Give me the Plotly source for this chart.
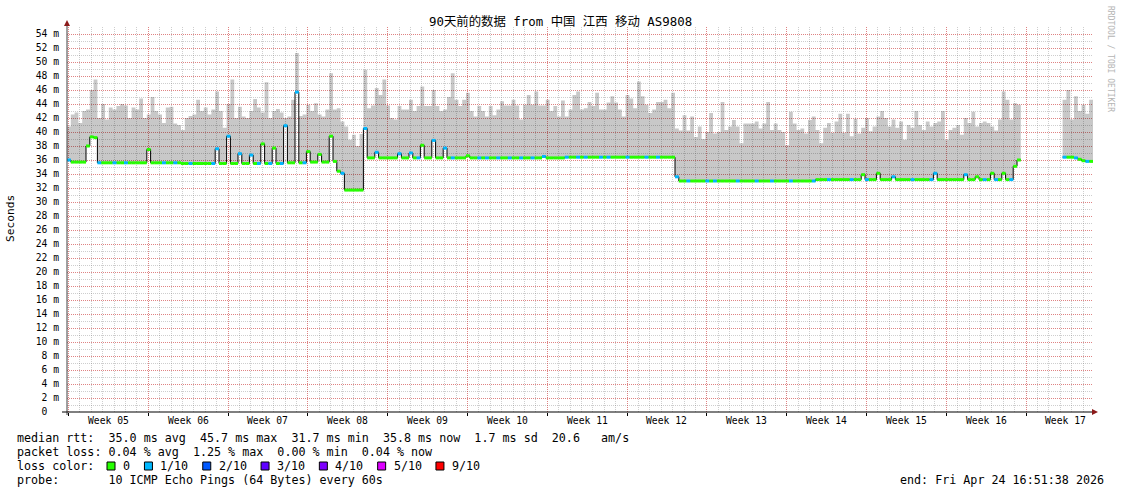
import plotly.graph_objects as go
from datetime import datetime, timedelta

# ---------------- data (8-hour steps from graph start) ----------------
START = datetime(2026, 1, 24, 16, 51, 38)
END = datetime(2026, 4, 24, 16, 51, 38)
STEP_HOURS = 8

# highest ping per step (ms) -> top of the "smoke"
smoke_top = [
    40.8, 42.5, 42.8, 41.3, 43.0, 43.2, 46.0, 47.5, 42.0, 44.0,
    41.8, 43.5, 43.2, 43.7, 44.0, 43.8, 42.0, 43.5, 43.2, 44.8,
    42.0, 42.5, 45.0, 43.0, 42.5, 41.3, 43.5, 43.6, 41.2, 41.0,
    40.3, 42.0, 42.3, 42.5, 44.6, 43.0, 43.5, 42.5, 43.2, 45.8,
    43.0, 40.6, 44.0, 47.5, 42.0, 43.6, 42.2, 42.0, 43.0, 44.7,
    43.5, 42.8, 47.1, 42.0, 43.0, 43.3, 42.8, 42.0, 42.2, 44.6,
    51.3, 42.3, 42.5, 43.9, 43.0, 44.1, 42.5, 42.2, 43.2, 48.4,
    43.2, 43.4, 41.5, 40.8, 38.9, 39.6, 38.0, 39.7, 48.9, 43.4,
    43.8, 46.3, 45.3, 47.5, 43.8, 42.0, 41.8, 43.7, 43.2, 43.2,
    44.6, 43.0, 43.7, 46.5, 43.7, 43.7, 46.0, 43.7, 43.0, 43.2,
    45.0, 48.4, 44.6, 43.7, 44.6, 45.6, 43.0, 42.2, 43.7, 43.0,
    42.2, 43.7, 42.4, 43.2, 44.4, 43.8, 43.8, 44.6, 43.8, 41.8,
    43.9, 45.3, 43.9, 45.8, 43.8, 43.8, 44.6, 43.0, 43.7, 42.2,
    44.5, 42.2, 43.2, 45.3, 45.8, 43.2, 43.4, 44.3, 43.7, 45.6,
    43.2, 43.2, 44.2, 45.1, 44.2, 43.2, 42.2, 45.3, 44.8, 43.4,
    47.2, 45.1, 43.9, 42.7, 43.2, 44.3, 44.3, 44.6, 43.4, 45.6,
    40.5, 40.2, 42.4, 40.2, 42.2, 39.3, 40.8, 39.0, 40.0, 42.7,
    39.8, 40.0, 44.3, 40.3, 40.8, 41.7, 40.8, 38.4, 41.2, 41.2,
    41.2, 41.5, 40.5, 41.2, 44.3, 40.3, 41.2, 40.3, 40.0, 38.1,
    42.9, 41.2, 40.3, 40.5, 39.8, 41.7, 42.2, 40.3, 38.4, 40.6,
    41.3, 39.9, 41.5, 42.6, 39.9, 42.6, 39.4, 41.9, 39.8, 40.6,
    42.0, 40.1, 40.8, 42.2, 43.0, 42.0, 40.8, 41.8, 40.6, 41.5,
    38.9, 41.0, 40.6, 43.0, 41.0, 40.3, 41.5, 40.8, 41.3, 41.5,
    43.0, 38.9, 40.3, 40.6, 41.0, 39.6, 42.0, 41.3, 42.9, 40.8,
    41.3, 41.5, 41.3, 40.8, 40.2, 41.8, 45.8, 44.6, 41.8, 44.1,
    43.9, None, None, None, None, None, None, None, None, None,
    None, None, 44.6, 46.0, 41.8, 45.1, 43.0, 43.9, 42.6, 44.6,
]

# median rtt per step (ms)
median_rtt = [
    36.0, 35.7, 35.7, 35.7, 35.7, 38.0, 39.3, 39.2, 35.6, 35.6,
    35.6, 35.6, 35.6, 35.6, 35.6, 35.6, 35.6, 35.6, 35.6, 35.6,
    35.6, 37.5, 35.6, 35.6, 35.6, 35.6, 35.6, 35.6, 35.6, 35.6,
    35.5, 35.5, 35.5, 35.5, 35.5, 35.5, 35.5, 35.5, 35.5, 37.6,
    35.5, 35.5, 39.4, 35.5, 35.5, 36.9, 35.5, 35.5, 36.7, 35.5,
    35.5, 38.3, 35.5, 35.5, 37.7, 35.5, 35.5, 40.9, 35.6, 35.6,
    45.7, 35.6, 35.6, 37.2, 35.7, 35.7, 36.8, 35.7, 35.7, 39.4,
    35.8, 34.4, 34.1, 31.7, 31.7, 31.7, 31.7, 31.7, 40.5, 36.3,
    36.3, 37.1, 36.3, 36.3, 36.3, 36.3, 36.3, 36.9, 36.3, 36.3,
    37.0, 36.3, 36.3, 38.1, 36.3, 36.3, 38.8, 36.3, 36.3, 37.7,
    36.3, 36.3, 36.3, 36.3, 36.3, 36.6, 36.3, 36.3, 36.3, 36.3,
    36.3, 36.3, 36.3, 36.3, 36.3, 36.3, 36.3, 36.3, 36.3, 36.3,
    36.3, 36.3, 36.3, 36.3, 36.3, 36.5, 36.3, 36.3, 36.3, 36.3,
    36.3, 36.4, 36.4, 36.4, 36.4, 36.4, 36.4, 36.4, 36.4, 36.4,
    36.4, 36.4, 36.4, 36.4, 36.4, 36.4, 36.4, 36.4, 36.4, 36.4,
    36.4, 36.4, 36.4, 36.4, 36.4, 36.4, 36.4, 36.4, 36.4, 36.4,
    33.6, 33.0, 33.0, 33.0, 33.0, 33.0, 33.0, 33.0, 33.0, 33.0,
    33.0, 33.0, 33.0, 33.0, 33.0, 33.0, 33.0, 33.0, 33.0, 33.0,
    33.0, 33.0, 33.0, 33.0, 33.0, 33.0, 33.0, 33.0, 33.0, 33.0,
    33.0, 33.0, 33.0, 33.0, 33.0, 33.0, 33.0, 33.2, 33.2, 33.2,
    33.2, 33.2, 33.2, 33.2, 33.2, 33.2, 33.2, 33.2, 33.2, 33.9,
    33.2, 33.2, 33.2, 34.1, 33.2, 33.2, 33.2, 33.6, 33.2, 33.2,
    33.2, 33.2, 33.2, 33.2, 33.2, 33.2, 33.2, 33.2, 34.1, 33.2,
    33.2, 33.2, 33.2, 33.2, 33.2, 33.2, 33.9, 33.2, 33.2, 33.6,
    33.2, 33.2, 33.2, 34.1, 33.2, 33.2, 34.1, 33.2, 33.2, 35.1,
    36.0, None, None, None, None, None, None, None, None, None,
    None, None, 36.4, 36.4, 36.4, 36.3, 36.1, 35.9, 35.8, 35.8,
]

# pings lost (out of 10) per step
lost_pings = [
    1, 0, 0, 0, 0, 0, 0, 0, 1, 0,
    0, 0, 1, 0, 0, 1, 0, 0, 0, 0,
    0, 0, 0, 0, 0, 1, 0, 0, 1, 0,
    0, 0, 1, 0, 0, 0, 0, 0, 1, 1,
    0, 0, 1, 0, 0, 1, 0, 0, 1, 0,
    1, 0, 0, 1, 0, 0, 1, 1, 0, 0,
    1, 0, 1, 0, 0, 0, 0, 0, 0, 0,
    0, 0, 1, 0, 0, 0, 0, 0, 1, 0,
    0, 1, 0, 0, 0, 0, 0, 1, 0, 0,
    1, 0, 1, 0, 0, 0, 1, 0, 0, 1,
    0, 1, 0, 0, 0, 0, 0, 0, 1, 0,
    1, 0, 0, 1, 0, 0, 1, 0, 0, 1,
    0, 0, 1, 0, 0, 1, 0, 0, 0, 0,
    0, 1, 0, 0, 1, 0, 1, 0, 0, 0,
    1, 0, 1, 0, 0, 0, 0, 1, 0, 0,
    0, 0, 1, 0, 0, 1, 0, 0, 0, 0,
    1, 0, 0, 1, 0, 0, 0, 0, 1, 0,
    1, 0, 0, 0, 0, 0, 1, 0, 0, 0,
    0, 1, 0, 0, 0, 1, 0, 0, 0, 0,
    1, 0, 0, 0, 0, 0, 1, 0, 0, 0,
    1, 0, 0, 0, 0, 0, 1, 0, 0, 0,
    1, 0, 0, 0, 0, 0, 0, 1, 0, 0,
    0, 0, 1, 0, 0, 0, 0, 1, 1, 0,
    0, 0, 0, 0, 0, 0, 1, 0, 0, 0,
    0, 1, 0, 0, 1, 0, 0, 0, 1, 0,
    0, None, None, None, None, None, None, None, None, None,
    None, None, 1, 0, 0, 1, 0, 0, 1, 0,
]

loss_thresholds = [0, 1, 2, 3, 4, 5, 9]
loss_labels = ["0", "1/10", "2/10", "3/10", "4/10", "5/10", "9/10"]
loss_colors = ["#26ff00", "#00b8ff", "#0059ff", "#5e00ff", "#7e00ff", "#dd00ff", "#ff0000"]

week_boundaries = [
    "2026-01-24 20:00", "2026-01-31 20:00", "2026-02-07 20:00", "2026-02-14 20:00",
    "2026-02-21 20:00", "2026-02-28 20:00", "2026-03-07 20:00", "2026-03-14 20:00",
    "2026-03-21 20:00", "2026-03-28 20:00", "2026-04-04 20:00", "2026-04-11 20:00",
    "2026-04-18 20:00",
]
week_labels = ["Week 05", "Week 06", "Week 07", "Week 08", "Week 09", "Week 10", "Week 11",
               "Week 12", "Week 13", "Week 14", "Week 15", "Week 16", "Week 17"]

y_tick_values = [0, 2, 4, 6, 8, 10, 12, 14, 16, 18, 20, 22, 24, 26,
                 28, 30, 32, 34, 36, 38, 40, 42, 44, 46, 48, 50, 52, 54]
y_tick_labels = ["0\u00a0\u00a0", "2 m", "4 m", "6 m", "8 m", "10 m", "12 m", "14 m", "16 m",
                 "18 m", "20 m", "22 m", "24 m", "26 m", "28 m", "30 m", "32 m", "34 m",
                 "36 m", "38 m", "40 m", "42 m", "44 m", "46 m", "48 m", "50 m", "52 m", "54 m"]

title_text = "90天前的数据\u2005from 中国\u2005江西\u2005移动\u2005AS9808"
legend_lines = [
    "median rtt:  35.0 ms avg  45.7 ms max  31.7 ms min  35.8 ms now  1.7 ms sd  20.6   am/s",
    "packet loss: 0.04 % avg  1.25 % max  0.00 % min  0.04 % now",
    "loss color:",
    "probe:       10 ICMP Echo Pings (64 Bytes) every 60s",
]
end_text = "end: Fri Apr 24 16:51:38 2026"

# ---------------- geometry ----------------
W, H = 1121, 494
PL, PR, PT, PB = 67, 1093, 27, 412
MONO = "DejaVu Sans Mono, Noto Sans CJK SC, monospace"


def px(x):
    return (x - PL) / (PR - PL)


def py(y):
    return (PB - y) / (PB - PT)


def t(i):
    return START + timedelta(hours=STEP_HOURS * i)


fig = go.Figure()

# contiguous runs of data
runs, cur = [], []
for i, v in enumerate(smoke_top):
    if v is None:
        if cur:
            runs.append(cur)
            cur = []
    else:
        cur.append(i)
if cur:
    runs.append(cur)

for run in runs:
    xs = [t(i) for i in run] + [t(run[-1] + 1)]
    base = [median_rtt[i] for i in run] + [median_rtt[run[-1]]]
    top = [smoke_top[i] for i in run] + [smoke_top[run[-1]]]
    fig.add_trace(go.Scatter(x=xs, y=base, mode="lines", line=dict(width=0, shape="hv"),
                             hoverinfo="skip", showlegend=False))
    fig.add_trace(go.Scatter(x=xs, y=top, mode="lines", line=dict(width=0, shape="hv"),
                             fill="tonexty", fillcolor="rgba(0,0,0,0.215)",
                             hoverinfo="skip", showlegend=False))

# black median connector line
for run in runs:
    xs = [t(i) for i in run] + [t(run[-1] + 1)]
    ys = [median_rtt[i] for i in run] + [median_rtt[run[-1]]]
    fig.add_trace(go.Scatter(x=xs, y=ys, mode="lines", line=dict(width=1, color="#000000", shape="hv"),
                             hoverinfo="skip", showlegend=False))

# coloured median segments by packet loss
for k, (thr, col) in enumerate(zip(loss_thresholds, loss_colors)):
    nxt = loss_thresholds[k + 1] if k + 1 < len(loss_thresholds) else 99
    xs, ys = [], []
    for i, m in enumerate(median_rtt):
        if m is None:
            continue
        lp = lost_pings[i]
        if thr <= lp < nxt:
            xs += [t(i), t(i + 1), None]
            ys += [m, m, None]
    if xs:
        fig.add_trace(go.Scatter(x=xs, y=ys, mode="lines", line=dict(width=3, color=col),
                                 hoverinfo="skip", showlegend=False))

MAJOR = "rgba(255,0,0,0.36)"
MINOR = "rgba(110,110,110,0.34)"

fig.update_layout(
    width=W, height=H,
    margin=dict(l=PL, r=W - PR, t=PT, b=H - PB, autoexpand=False),
    paper_bgcolor="#ffffff", plot_bgcolor="#ffffff",
    showlegend=False,
    font=dict(family=MONO, size=10, color="#000000"),
    xaxis=dict(
        type="date", range=[START, END],
        tickmode="array", tickvals=week_boundaries, showticklabels=False,
        ticks="outside", ticklen=3, tickcolor="#000000",
        showgrid=True, gridcolor=MAJOR, griddash="1px,1px", gridwidth=1,
        minor=dict(dtick=86400000, tick0="2026-01-24 20:00", showgrid=True,
                   gridcolor=MINOR, griddash="1px,1px", gridwidth=1, ticks=""),
        showline=False, zeroline=False, fixedrange=True, automargin=False,
    ),
    yaxis=dict(
        range=[0, 55], tickmode="array", tickvals=y_tick_values, ticktext=y_tick_labels,
        tickfont=dict(family=MONO, size=9.7, color="#000000"),
        ticks="", ticklabelstandoff=7,
        showgrid=True, gridcolor=MAJOR, griddash="1px,1px", gridwidth=1,
        minor=dict(dtick=1, tick0=0, showgrid=True, gridcolor=MINOR, griddash="1px,1px", gridwidth=1),
        showline=False, zeroline=False, fixedrange=True, automargin=False,
    ),
)

shapes = []
# axes with arrows
shapes.append(dict(type="line", xref="paper", yref="paper", x0=px(PL), x1=px(PL), y0=py(PB + 3), y1=py(24),
                   line=dict(color="#404040", width=1)))
shapes.append(dict(type="line", xref="paper", yref="paper", x0=px(62), x1=px(1093), y0=py(PB), y1=py(PB),
                   line=dict(color="#000000", width=1)))
shapes.append(dict(type="path", xref="paper", yref="paper",
                   path=f"M {px(64)},{py(26)} L {px(70)},{py(26)} L {px(67)},{py(20)} Z",
                   fillcolor="#8b1a1a", line=dict(color="#8b1a1a", width=0)))
shapes.append(dict(type="path", xref="paper", yref="paper",
                   path=f"M {px(1092)},{py(409)} L {px(1092)},{py(415)} L {px(1098)},{py(412)} Z",
                   fillcolor="#8b1a1a", line=dict(color="#8b1a1a", width=0)))

annotations = []
annotations.append(dict(text=title_text, xref="paper", yref="paper", x=px(560), y=py(21),
                        xanchor="center", yanchor="middle", showarrow=False,
                        font=dict(family=MONO, size=12.4, color="#000000")))
annotations.append(dict(text="Seconds", xref="paper", yref="paper", x=px(10), y=py(219),
                        xanchor="center", yanchor="middle", showarrow=False, textangle=-90,
                        font=dict(family=MONO, size=11.2, color="#000000")))
annotations.append(dict(text="RRDTOOL / TOBI OETIKER", xref="paper", yref="paper", x=px(1111), y=py(59),
                        xanchor="center", yanchor="middle", showarrow=False, textangle=90,
                        font=dict(family=MONO, size=8, color="#b4b4b4")))

# week labels centred in each week
for b, lab in zip(week_boundaries, week_labels):
    c = datetime.strptime(b, "%Y-%m-%d %H:%M") + timedelta(days=3.5)
    annotations.append(dict(text=lab, xref="x", yref="paper", x=c, y=py(421),
                            xanchor="center", yanchor="middle", showarrow=False,
                            font=dict(family=MONO, size=9.7, color="#000000")))

LEG = 11.7
line_y = [438, 452, 466, 480]
for txt, yy in zip(legend_lines, line_y):
    annotations.append(dict(text=txt.replace(" ", "\u00a0"), xref="paper", yref="paper", x=px(15), y=py(yy),
                            xanchor="left", yanchor="middle", showarrow=False,
                            font=dict(family=MONO, size=LEG, color="#000000")))
annotations.append(dict(text=end_text.replace(" ", "\u00a0"), xref="paper", yref="paper", x=px(1106), y=py(480),
                        xanchor="right", yanchor="middle", showarrow=False,
                        font=dict(family=MONO, size=LEG, color="#000000")))

# loss colour legend boxes
sx = 107.0
CW = 6.95
for lab, col in zip(loss_labels, loss_colors):
    shapes.append(dict(type="rect", xref="paper", yref="paper",
                       x0=px(sx), x1=px(sx + 8), y0=py(470), y1=py(462),
                       fillcolor=col, line=dict(color="#000000", width=1)))
    lx = sx + 14
    annotations.append(dict(text=lab, xref="paper", yref="paper", x=px(lx), y=py(466),
                            xanchor="left", yanchor="middle", showarrow=False,
                            font=dict(family=MONO, size=LEG, color="#000000")))
    sx = lx + len(lab) * CW + 16.5

fig.update_layout(shapes=shapes, annotations=annotations)

fig.write_html("out.html", config={"displayModeBar": False},
               post_script="document.body.style.margin='0px';")
